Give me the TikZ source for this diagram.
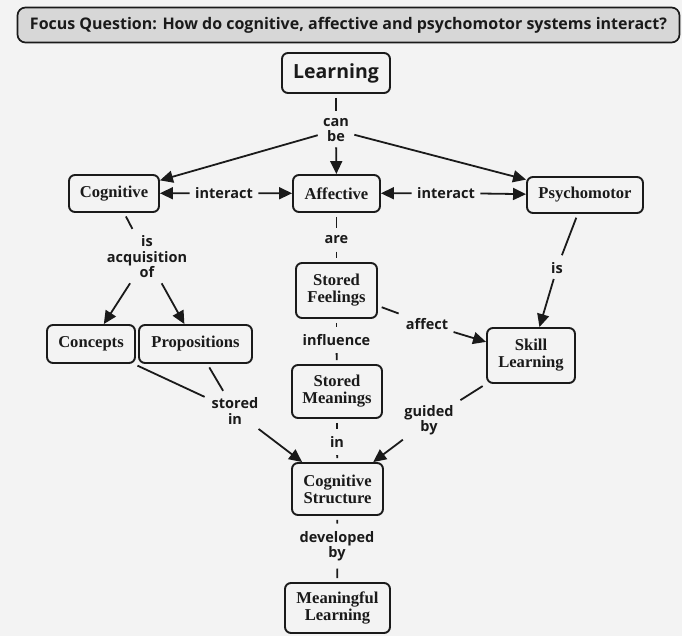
\documentclass[tikz,border=0pt]{standalone}
\usepackage{fontspec}
\setmainfont{Liberation Serif}
\newfontfamily\sansfam{Open Sans}
\usetikzlibrary{arrows.meta}

\definecolor{ink}{HTML}{1A1A1A}
\definecolor{paper}{HTML}{F3F3F3}
\definecolor{focusfill}{HTML}{D7D7D7}

\tikzset{
  concept/.style={draw=ink, line width=1.9pt, rounded corners=6pt, align=center,
    inner sep=0pt, font=\fontsize{16.6}{17}\selectfont\bfseries, text=ink},
  linkword/.style={align=center, inner sep=1.5pt, outer sep=2pt, text=ink,
    font=\sansfam\bfseries\fontsize{14.5}{15.5}\selectfont},
  link/.style={draw=ink, line width=1.8pt, shorten <=4pt, shorten >=4pt},
  linkarrow/.style={draw=ink, line width=1.8pt, shorten <=2pt,
    -{Triangle[length=13pt,width=12pt]}}
}

\begin{document}
\begin{tikzpicture}[x=1pt,y=-1pt]
  \useasboundingbox (0,0) rectangle (682,636);
  \fill[paper] (0,0) rectangle (682,636);

  % focus question banner
  \node[draw=ink, line width=1.7pt, fill=focusfill, rounded corners=8pt,
        minimum width=662pt, minimum height=35pt, inner sep=0pt,
        font=\sansfam\bfseries\fontsize{16}{18}\selectfont, text=ink]
    (focus) at (348.5,25)
    {Focus Question: How do cognitive, affective and psychomotor systems interact?};

  % concepts
  \node[concept, minimum width=108pt, minimum height=40pt,
        font=\sansfam\bfseries\fontsize{19.5}{20}\selectfont] (learning) at (336,73) {Learning};
  \node[concept, minimum width=90pt, minimum height=37pt] (cognitive) at (114,193.5) {Cognitive};
  \node[concept, minimum width=87pt, minimum height=37pt] (affective) at (336.5,193.5) {Affective};
  \node[concept, minimum width=116pt, minimum height=36pt] (psychomotor) at (585,195) {Psychomotor};
  \node[concept, minimum width=81pt, minimum height=55pt] (feelings) at (336.5,290.5) {Stored\\Feelings};
  \node[concept, minimum width=90pt, minimum height=53pt] (meanings) at (337,391.5) {Stored\\Meanings};
  \node[concept, minimum width=91pt, minimum height=52pt] (cogstruct) at (337.5,489) {Cognitive\\Structure};
  \node[concept, minimum width=105pt, minimum height=50pt] (meaningful) at (337.5,608) {Meaningful\\Learning};
  \node[concept, minimum width=88pt, minimum height=38pt] (concepts) at (91,344) {Concepts};
  \node[concept, minimum width=113pt, minimum height=38pt] (propositions) at (195.5,344) {Propositions};
  \node[concept, minimum width=88pt, minimum height=55pt] (skill) at (531,355.5) {Skill\\Learning};

  % linking words
  \node[linkword] (canbe) at (336,130) {can\\be};
  \node[linkword] (interactL) at (224,193) {interact};
  \node[linkword] (interactR) at (446,193) {interact};
  \node[linkword] (isacq) at (147,257) {is\\acquisition\\of};
  \node[linkword] (are) at (336.5,240) {are};
  \node[linkword] (influence) at (336.5,340) {influence};
  \node[linkword] (affect) at (427,324) {affect};
  \node[linkword] (isskill) at (557,268) {is};
  \node[linkword] (storedin) at (235,411) {stored\\in};
  \node[linkword] (guidedby) at (429,420) {guided\\by};
  \node[linkword] (in) at (337,442) {in};
  \node[linkword] (devby) at (337,546) {developed\\by};

  % propositions
  \draw[link] (learning) -- (canbe);
  \draw[linkarrow] (canbe) -- (cognitive);
  \draw[linkarrow] (canbe) -- (affective);
  \draw[linkarrow] (canbe) -- (psychomotor);

  \draw[linkarrow] (interactL) -- (cognitive);
  \draw[linkarrow] (interactL) -- (affective);
  \draw[linkarrow] (interactR) -- (affective);
  \draw[linkarrow] (interactR) -- (psychomotor);

  \draw[link] (cognitive) -- (isacq);
  \draw[linkarrow] (isacq) -- (concepts);
  \draw[linkarrow] (isacq) -- (propositions);

  \draw[link] (concepts) -- (storedin);
  \draw[link] (propositions) -- (storedin);
  \draw[linkarrow] (storedin) -- (cogstruct);

  \draw[link] (affective) -- (are);
  \draw[link] (are) -- (feelings);
  \draw[link] (feelings) -- (influence);
  \draw[link] (influence) -- (meanings);
  \draw[link] (meanings) -- (in);
  \draw[link] (in) -- (cogstruct);
  \draw[link] (cogstruct) -- (devby);
  \draw[link] (devby) -- (meaningful);

  \draw[link] (feelings) -- (affect);
  \draw[linkarrow] (affect) -- (skill);

  \draw[link] (psychomotor) -- (isskill);
  \draw[linkarrow] (isskill) -- (skill);

  \draw[link] (skill) -- (guidedby);
  \draw[linkarrow] (guidedby) -- (cogstruct);
\end{tikzpicture}
\end{document}
